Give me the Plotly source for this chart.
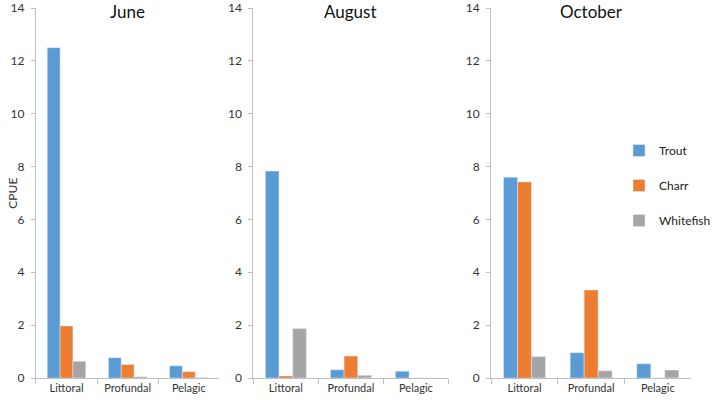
import plotly.graph_objects as go

habitats = ["Littoral", "Profundal", "Pelagic"]
months = ["June", "August", "October"]
species = ["Trout", "Charr", "Whitefish"]
colors = ["#5B9BD5", "#ED7D31", "#A5A5A5"]

# CPUE per month, per species, over habitats
june = {"Trout": [12.5, 0.77, 0.46], "Charr": [1.97, 0.51, 0.24], "Whitefish": [0.63, 0.05, 0.02]}
august = {"Trout": [7.83, 0.31, 0.26], "Charr": [0.08, 0.83, 0.0], "Whitefish": [1.87, 0.10, 0.0]}
october = {"Trout": [7.6, 0.96, 0.54], "Charr": [7.42, 3.33, 0.0], "Whitefish": [0.81, 0.27, 0.30]}
month_data = [june, august, october]

y_ticks = [0, 2, 4, 6, 8, 10, 12, 14]

W, H = 716, 400
ml, mr, mt, mb = 0, 0, 8, 22
domains = [[37, 226], [261, 462], [506, 712]]
ph = H - mt - mb

fig = go.Figure()

for i, data in enumerate(month_data):
    n = "" if i == 0 else str(i + 1)
    for s, c in zip(species, colors):
        fig.add_trace(go.Bar(x=habitats, y=data[s], name=s, marker_color=c,
                             legendgroup=s, showlegend=(i == 0),
                             xaxis="x" + n, yaxis="y" + n))
    xd = [domains[i][0] / W, domains[i][1] / W]
    fig.layout["xaxis" + n] = dict(domain=xd, anchor="y" + n, showline=True, linecolor="#BFBFBF",
                                   ticks="outside", tickson="boundaries", ticklen=5, tickcolor="#BFBFBF",
                                   showgrid=False, tickfont=dict(size=11, color="#333"))
    fig.layout["yaxis" + n] = dict(anchor="x" + n, range=[0, 14], tickvals=y_ticks, showline=True,
                                   linecolor="#BFBFBF", showgrid=False, zeroline=False,
                                   ticks="outside", ticklen=4, tickcolor="#BFBFBF",
                                   tickfont=dict(size=12, color="#333"), ticklabelstandoff=4)
    fig.add_annotation(text=months[i], x=sum(xd) / 2, y=(H - mb - 11) / ph, xref="paper", yref="paper",
                       xanchor="center", yanchor="middle", showarrow=False,
                       font=dict(size=17, color="#111"))

# y axis label
fig.add_annotation(text="CPUE", textangle=-90, x=12 / W, y=(H - mb - 193) / ph,
                   xref="paper", yref="paper", xanchor="center", yanchor="middle",
                   showarrow=False, font=dict(size=12, color="#333"))

fig.update_layout(
    width=W, height=H,
    margin=dict(l=ml, r=mr, t=mt, b=mb),
    barmode="group", bargap=0.37, bargroupgap=0,
    plot_bgcolor="white", paper_bgcolor="white",
    font=dict(family="Lato, Liberation Sans, sans-serif"),
    legend=dict(x=638 / W, y=(H - mb - 136) / ph, xanchor="left", yanchor="top",
                font=dict(size=12, color="#222"), tracegroupgap=16, bgcolor="rgba(0,0,0,0)"),
)

fig.write_html("out.html", config={"displayModeBar": False},
               post_script="document.body.style.margin='0';")
